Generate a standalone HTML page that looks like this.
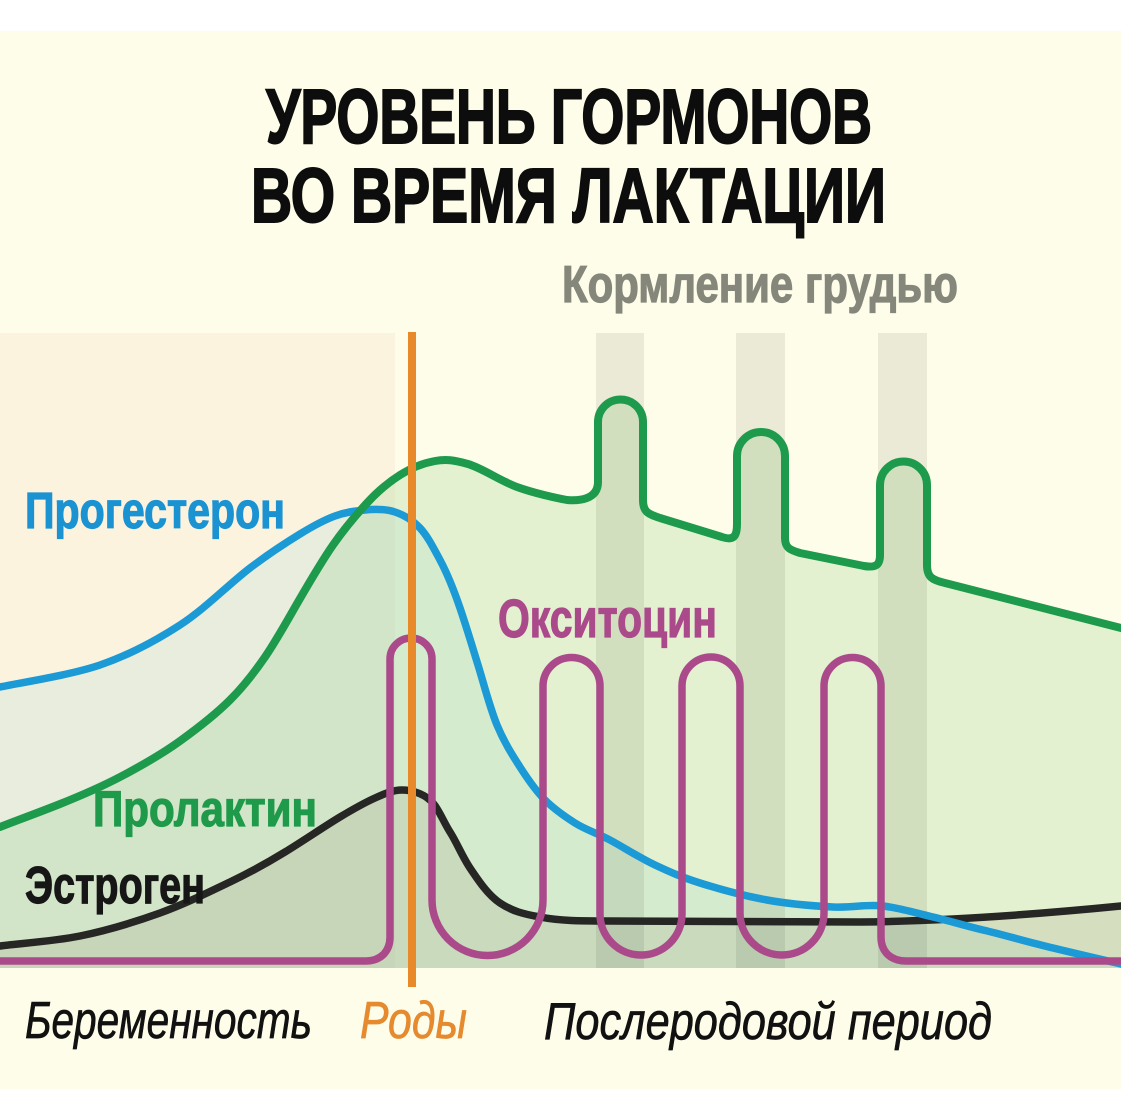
<!DOCTYPE html>
<html>
<head>
<meta charset="utf-8">
<style>
html,body{margin:0;padding:0;background:#ffffff;}
svg{display:block;}
text{font-family:"Liberation Sans","Noto Sans CJK SC",sans-serif;}
</style>
</head>
<body>
<svg width="1121" height="1117" viewBox="0 0 1121 1117" xmlns="http://www.w3.org/2000/svg">
  <rect x="0" y="0" width="1121" height="1117" fill="#ffffff"/>
  <rect x="0" y="31" width="1121" height="1058" fill="#fefde9"/>

  <!-- pregnancy region -->
  <rect x="0" y="333" width="395" height="635" fill="#fcf3df"/>

  <!-- progesterone fill -->
  <path d="M0,687 C16.7,683.3 70,675.3 100,665 C130,654.7 155,641.2 180,625 C205,608.8 230,583.2 250,568 C270,552.8 285.8,542.7 300,534 C314.2,525.3 324,520 335,516 C346,512 355,511 365,510 C375,509 386,509 395,512 C404,515 412.5,520 420,528 C427.5,536 433,547 440,560 C447,573 454,590.5 460,608 C466,625.5 472,645.5 478,665 C484,684.5 490,708 497,725 C504,742 512,754.5 520,767 C528,779.5 536,791 545,800 C554,809 564,816 575,823 C586,830 597,833 610,840 C623,847 640,858 655,865 C670,872 681,877 700,883 C719,889 745,896 767,900 C789,904 814,906 833,907 C852,908 866,904 883,906 C900,908 916,913 933,917 C950,921 966,926 983,930 C1000,934 1010,937 1033,943 C1056,949 1106,960.5 1121,964 L1121,968 L0,968 Z" fill="rgb(170,220,220)" fill-opacity="0.22"/>

  <!-- prolactin fill -->
  <path d="M0,827 C10,823 40,812 60,804 C80,796 100,787.5 120,777 C140,766.5 162,754 180,741 C198,728 216,714 230,700 C244,686 254,673 265,657 C276,641 287,621 298,602 C309,583 321.5,561.5 333,545 C344.5,528.5 356,515 367,503 C378,491 389,482 400,475 C411,468 424,463 435,461 C446,459 454,460 468,464 C482,468 500.5,481 517,487 C533.5,493 556,498 567,500 C578,501 598,500 598,482 L598,422 A22.5,22.5 0 0 1 643,422 L643,500 C643,512 648,514 660,518 L722,537 C734,541 737,536 737,524 L737,456 A24,24 0 0 1 785,456 L785,538 C785,548 790,550 800,553 L864,566 C876,568 880,565 880,555 L880,485 A23.5,23.5 0 0 1 927,485 L927,565 C927,577 932,580 945,583 L1121,628 L1121,968 L0,968 Z" fill="rgb(150,210,140)" fill-opacity="0.26"/>

  <!-- estrogen fill -->
  <path d="M0,946 C13,944 53,941.5 80,936 C107,930.5 135,922 160,913 C185,904 209,892 230,882 C251,872 267,863 285,852 C303,841 325,826 340,817 C355,808 365,802.5 375,798 C385,793.5 393,790 402,790 C411,790 422,793 430,800 C438,807 443,821 450,832 C457,843 462,856 470,868 C478,880 488,895 500,903 C512,911 523,914 540,917 C560,921 580,921 610,921 L860,922 C950,921 1040,914 1121,906 L1121,968 L0,968 Z" fill="rgb(120,110,80)" fill-opacity="0.13"/>

  <!-- breastfeeding bars -->
  <rect x="596" y="333" width="48" height="635" fill="rgb(40,40,20)" fill-opacity="0.09"/>
  <rect x="736" y="333" width="49" height="635" fill="rgb(40,40,20)" fill-opacity="0.09"/>
  <rect x="878" y="333" width="49" height="635" fill="rgb(40,40,20)" fill-opacity="0.09"/>

  <!-- estrogen line -->
  <path d="M0,946 C13,944 53,941.5 80,936 C107,930.5 135,922 160,913 C185,904 209,892 230,882 C251,872 267,863 285,852 C303,841 325,826 340,817 C355,808 365,802.5 375,798 C385,793.5 393,790 402,790 C411,790 422,793 430,800 C438,807 443,821 450,832 C457,843 462,856 470,868 C478,880 488,895 500,903 C512,911 523,914 540,917 C560,921 580,921 610,921 L860,922 C950,921 1040,914 1121,906" fill="none" stroke="#262624" stroke-width="7.5" stroke-linecap="round"/>

  <!-- progesterone line -->
  <path d="M0,687 C16.7,683.3 70,675.3 100,665 C130,654.7 155,641.2 180,625 C205,608.8 230,583.2 250,568 C270,552.8 285.8,542.7 300,534 C314.2,525.3 324,520 335,516 C346,512 355,511 365,510 C375,509 386,509 395,512 C404,515 412.5,520 420,528 C427.5,536 433,547 440,560 C447,573 454,590.5 460,608 C466,625.5 472,645.5 478,665 C484,684.5 490,708 497,725 C504,742 512,754.5 520,767 C528,779.5 536,791 545,800 C554,809 564,816 575,823 C586,830 597,833 610,840 C623,847 640,858 655,865 C670,872 681,877 700,883 C719,889 745,896 767,900 C789,904 814,906 833,907 C852,908 866,904 883,906 C900,908 916,913 933,917 C950,921 966,926 983,930 C1000,934 1010,937 1033,943 C1056,949 1106,960.5 1121,964" fill="none" stroke="#1b9ad6" stroke-width="7.5" stroke-linecap="round"/>

  <!-- prolactin line -->
  <path d="M0,827 C10,823 40,812 60,804 C80,796 100,787.5 120,777 C140,766.5 162,754 180,741 C198,728 216,714 230,700 C244,686 254,673 265,657 C276,641 287,621 298,602 C309,583 321.5,561.5 333,545 C344.5,528.5 356,515 367,503 C378,491 389,482 400,475 C411,468 424,463 435,461 C446,459 454,460 468,464 C482,468 500.5,481 517,487 C533.5,493 556,498 567,500 C578,501 598,500 598,482 L598,422 A22.5,22.5 0 0 1 643,422 L643,500 C643,512 648,514 660,518 L722,537 C734,541 737,536 737,524 L737,456 A24,24 0 0 1 785,456 L785,538 C785,548 790,550 800,553 L864,566 C876,568 880,565 880,555 L880,485 A23.5,23.5 0 0 1 927,485 L927,565 C927,577 932,580 945,583 L1121,628" fill="none" stroke="#1e9a4c" stroke-width="8" stroke-linecap="round" stroke-linejoin="round"/>

  <!-- oxytocin line -->
  <path d="M-5,961 L366,961 C380,961 390,952 390,937 L390,659 A21,21 0 0 1 432,659 L432,900 A55.5,55.5 0 0 0 543,900 L543,686 A28.5,28.5 0 0 1 600,686 L600,914 A41,41 0 0 0 682,914 L682,686 A29,29 0 0 1 740,686 L740,913 A42,42 0 0 0 824,913 L824,686 A28.5,28.5 0 0 1 881,686 L881,937 C881,952 891,961 906,961 L1126,961" fill="none" stroke="#ab4a8b" stroke-width="7.5" stroke-linejoin="round"/>

  <!-- birth line -->
  <rect x="408" y="332" width="8" height="655" fill="#e8892a"/>

  <!-- titles -->
  <text x="266" y="143" font-size="77" font-weight="bold" fill="#0d0d0d" stroke="#0d0d0d" stroke-width="2" textLength="606" lengthAdjust="spacingAndGlyphs">УРОВЕНЬ ГОРМОНОВ</text>
  <text x="251" y="222" font-size="77" font-weight="bold" fill="#0d0d0d" stroke="#0d0d0d" stroke-width="2" textLength="635" lengthAdjust="spacingAndGlyphs">ВО ВРЕМЯ ЛАКТАЦИИ</text>
  <text x="562" y="302" font-size="52" font-weight="bold" fill="#86877b" stroke="#86877b" stroke-width="1.2" textLength="396" lengthAdjust="spacingAndGlyphs">Кормление грудью</text>

  <!-- series labels -->
  <text x="25" y="528" font-size="51" font-weight="bold" fill="#1b93d2" stroke="#1b93d2" stroke-width="1.2" textLength="260" lengthAdjust="spacingAndGlyphs">Прогестерон</text>
  <text x="93" y="826" font-size="50" font-weight="bold" fill="#1f9a4b" stroke="#1f9a4b" stroke-width="1.2" textLength="224" lengthAdjust="spacingAndGlyphs">Пролактин</text>
  <text x="25" y="903" font-size="52" font-weight="bold" fill="#161616" stroke="#161616" stroke-width="1.2" textLength="180" lengthAdjust="spacingAndGlyphs">Эстроген</text>
  <text x="498" y="637" font-size="54" font-weight="bold" fill="#ab4a8b" stroke="#ab4a8b" stroke-width="1.2" textLength="219" lengthAdjust="spacingAndGlyphs">Окситоцин</text>

  <!-- period labels -->
  <text x="25" y="1038" font-size="52" font-style="italic" fill="#111111" stroke="#111111" stroke-width="0.7" textLength="287" lengthAdjust="spacingAndGlyphs">Беременность</text>
  <text x="360" y="1038" font-size="52" font-style="italic" fill="#e58a2e" stroke="#e58a2e" stroke-width="0.7" textLength="107" lengthAdjust="spacingAndGlyphs">Роды</text>
  <text x="544" y="1039" font-size="52" font-style="italic" fill="#111111" stroke="#111111" stroke-width="0.7" textLength="448" lengthAdjust="spacingAndGlyphs">Послеродовой период</text>
</svg>
</body>
</html>
